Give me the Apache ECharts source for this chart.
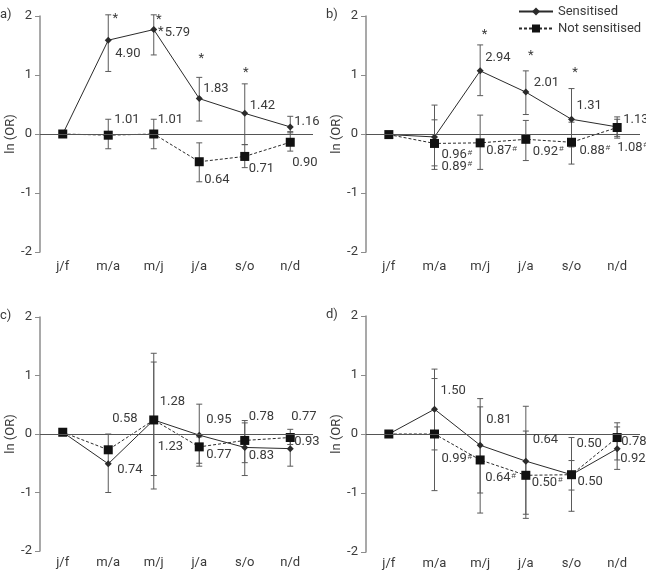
<!DOCTYPE html>
<html><head><meta charset="utf-8">
<script src="https://cdn.jsdelivr.net/npm/echarts@6/dist/echarts.min.js"></script>
<style>html,body{margin:0;padding:0;background:#fff}#c{width:646px;height:570px}</style>
</head><body><div id="c"></div>
<script>
// ---------- DATA ----------
const categories = ['j/f', 'm/a', 'm/j', 'j/a', 's/o', 'n/d'];
const yTicks = [-2, -1, 0, 1, 2];

// Panel a
const aSens = [0, 1.59, 1.77, 0.60, 0.35, 0.12];
const aSensLow = [null, 1.06, 1.34, 0.22, -0.18, 0.02];
const aSensHigh = [null, 2.02, 2.02, 0.96, 0.85, 0.30];
const aNot = [0, -0.02, 0, -0.47, -0.38, -0.14];
const aNotLow = [null, -0.25, -0.25, -0.81, -0.57, -0.29];
const aNotHigh = [null, 0.25, 0.25, -0.15, -0.18, 0.04];
const aSensLabels = ['', '4.90', '5.79', '1.83', '1.42', '1.16'];
const aNotLabels = ['', '1.01', '1.01', '0.64', '0.71', '0.90'];
const aStarCats = [1, 2, 2, 3, 4];

// Panel b
const bSens = [-0.01, -0.05, 1.07, 0.71, 0.25, 0.12];
const bSensLow = [null, -0.60, 0.65, 0.33, -0.22, -0.04];
const bSensHigh = [null, 0.49, 1.51, 1.07, 0.77, 0.29];
const bNot = [-0.01, -0.16, -0.15, -0.09, -0.14, 0.11];
const bNotLow = [null, -0.54, -0.60, -0.45, -0.51, -0.07];
const bNotHigh = [null, 0.24, 0.32, 0.23, 0.20, 0.25];
const bSensLabels = ['', '0.96#', '2.94', '2.01', '1.31', '1.13'];
const bNotLabels = ['', '0.89#', '0.87#', '0.92#', '0.88#', '1.08#'];
const bStarCats = [2, 3, 4];

// Panel c
const cSens = [0.03, -0.51, 0.24, -0.02, -0.23, -0.25];
const cSensLow = [null, -1.00, -0.94, -0.55, -0.71, -0.55];
const cSensHigh = [null, 0.00, 1.38, 0.51, 0.19, -0.02];
const cNot = [0.03, -0.27, 0.24, -0.22, -0.11, -0.06];
const cNotLow = [null, null, -0.71, -0.50, -0.49, -0.18];
const cNotHigh = [null, null, 1.23, -0.05, 0.23, 0.08];
const cSensLabels = ['', '0.74', '1.28', '0.95', '0.83', '0.93'];
const cNotLabels = ['', '0.58', '1.23', '0.77', '0.78', '0.77'];
const cStarCats = [];

// Panel d
const dSens = [0, 0.42, -0.19, -0.46, -0.69, -0.25];
const dSensLow = [null, -0.27, -1.00, -1.36, -1.31, -0.60];
const dSensHigh = [null, 1.10, 0.60, 0.47, -0.06, 0.12];
const dNot = [0, 0.00, -0.44, -0.70, -0.69, -0.06];
const dNotLow = [null, -0.96, -1.34, -1.43, -0.95, -0.44];
const dNotHigh = [null, 0.94, 0.46, 0.05, -0.45, 0.19];
const dSensLabels = ['', '1.50', '0.81', '0.64', '0.50', '0.92'];
const dNotLabels = ['', '0.99#', '0.64#', '0.50#', '0.50', '0.78'];
const dStarCats = [];

const seriesNames = ['Sensitised', 'Not sensitised'];
const panelTitles = ['a)', 'b)', 'c)', 'd)'];
const yAxisTitle = 'ln (OR)';

// ---------- LAYOUT / STYLE ----------
const grids = [
  {left: 40, top: 16, width: 273, height: 236},
  {left: 366, top: 16, width: 274, height: 236},
  {left: 40, top: 317, width: 273, height: 234},
  {left: 366, top: 316, width: 274, height: 236}
];
const xLabelMargins = [8, 8, 5, 5];
// label offsets [dx, dy] in px from the data point
const sensOffsets = [
  [null, [7, 14], [11, 3], [4, -10], [5, -8], [4, -5]],
  [null, [7, 18], [5, -13], [8, -9], [5, -14], [6, -7]],
  [null, [9, 6], [6, -18], [7, -15], [4, 8], [4, -7]],
  [null, [6, -18], [6, -25], [7, -21], [5, -31], [3, 10]]
];
const notOffsets = [
  [null, [6, -15], [4, -14], [5, 18], [4, 12], [2, 20]],
  [null, [7, 23], [6, 8], [7, 12], [8, 8], [0, 20]],
  [null, [4, -31], [4, 27], [7, 8], [4, -24], [1, -21]],
  [null, [7, 25], [5, 18], [6, 7], [6, 7], [4, 4]]
];
const starOffsets = [
  [[7, -21], [5, -10], [7, 2.5], [2, -40], [1, -41]],
  [[4.5, -36], [5, -36], [3.6, -47]],
  [],
  []
];
const ink = '#2b2b2b';
const textColor = '#3a3a3a';
const axisColor = '#8c8c8c';
const barColor = '#5a5a5a';
const FONT = 'Roboto, "Liberation Sans", sans-serif';

const panels = [
  {sens: aSens, sl: aSensLow, sh: aSensHigh, not: aNot, nl: aNotLow, nh: aNotHigh, sLab: aSensLabels, nLab: aNotLabels, stars: aStarCats},
  {sens: bSens, sl: bSensLow, sh: bSensHigh, not: bNot, nl: bNotLow, nh: bNotHigh, sLab: bSensLabels, nLab: bNotLabels, stars: bStarCats},
  {sens: cSens, sl: cSensLow, sh: cSensHigh, not: cNot, nl: cNotLow, nh: cNotHigh, sLab: cSensLabels, nLab: cNotLabels, stars: cStarCats},
  {sens: dSens, sl: dSensLow, sh: dSensHigh, not: dNot, nl: dNotLow, nh: dNotHigh, sLab: dSensLabels, nLab: dNotLabels, stars: dStarCats}
];

function errData(vals, lows, highs) {
  const out = [];
  vals.forEach((v, i) => { if (lows[i] != null && highs[i] != null) out.push([i, lows[i], highs[i]]); });
  return out;
}
function errSeries(p, data) {
  return {
    type: 'custom', xAxisIndex: p, yAxisIndex: p, z: 1, silent: true,
    data: data,
    renderItem: function (params, api) {
      const x = api.value(0);
      const lo = api.coord([x, api.value(1)]);
      const hi = api.coord([x, api.value(2)]);
      const w = 3;
      const st = {stroke: barColor, lineWidth: 1};
      return {type: 'group', children: [
        {type: 'line', shape: {x1: lo[0], y1: lo[1], x2: hi[0], y2: hi[1]}, style: st},
        {type: 'line', shape: {x1: lo[0] - w, y1: lo[1], x2: lo[0] + w, y2: lo[1]}, style: st},
        {type: 'line', shape: {x1: hi[0] - w, y1: hi[1], x2: hi[0] + w, y2: hi[1]}, style: st}
      ]};
    }
  };
}
function fmt(t) {
  return t.indexOf('#') >= 0 ? t.replace('#', '') + '{s|#}' : t;
}
function labelSeries(p, vals, labels, offs) {
  const data = [];
  const idx = [];
  vals.forEach((v, i) => { if (labels[i]) { data.push([i, v]); idx.push(i); } });
  return {
    type: 'custom', xAxisIndex: p, yAxisIndex: p, z: 5, silent: true,
    data: data,
    renderItem: function (params, api) {
      const i = idx[params.dataIndex];
      const pt = api.coord([api.value(0), api.value(1)]);
      const o = offs[i];
      return {type: 'text', x: pt[0] + o[0], y: pt[1] + o[1], style: {
        text: fmt(labels[i]), fill: textColor, font: '13px ' + FONT,
        align: 'left', verticalAlign: 'middle',
        rich: {s: {fontSize: 8, fill: textColor, verticalAlign: 'top', lineHeight: 8, padding: [0, 0, 6, 1]}}
      }};
    }
  };
}
function starSeries(p, vals, cats, offs) {
  const data = cats.map(c => [c, vals[c]]);
  return {
    type: 'custom', xAxisIndex: p, yAxisIndex: p, z: 5, silent: true,
    data: data,
    renderItem: function (params, api) {
      const pt = api.coord([api.value(0), api.value(1)]);
      const o = offs[params.dataIndex];
      return {type: 'text', x: pt[0] + o[0], y: pt[1] + o[1], style: {
        text: '*', fill: textColor, font: '13px ' + FONT, align: 'center', verticalAlign: 'middle'
      }};
    }
  };
}

const option = {
  backgroundColor: '#fff',
  animation: false,
  textStyle: {fontFamily: FONT},
  legend: {
    left: 513, top: 0, orient: 'vertical', itemGap: 4, itemWidth: 34, itemHeight: 10,
    textStyle: {color: textColor, fontSize: 13, fontFamily: FONT},
    data: seriesNames
  },
  grid: grids,
  xAxis: grids.map((g, p) => ({
    type: 'category', gridIndex: p, data: categories, boundaryGap: true,
    axisLine: {show: false}, axisTick: {show: false},
    axisLabel: {color: textColor, fontSize: 13, margin: xLabelMargins[p], fontFamily: FONT}
  })),
  yAxis: grids.map((g, p) => ({
    type: 'value', gridIndex: p, min: yTicks[0], max: yTicks[yTicks.length - 1], interval: 1,
    name: yAxisTitle, nameLocation: 'middle', nameGap: 23, nameRotate: 90,
    nameTextStyle: {color: textColor, fontSize: 13, fontFamily: FONT},
    axisLine: {show: true, lineStyle: {color: axisColor, width: 1.5}},
    axisTick: {show: true, length: 5, lineStyle: {color: axisColor}},
    splitLine: {show: false},
    axisLabel: {color: textColor, fontSize: 13, margin: 8, fontFamily: FONT}
  })),
  graphic: grids.map((g, p) => ({
    type: 'text', left: g.left - 40, top: g.top - 8,
    style: {text: panelTitles[p], fill: textColor, font: '13px ' + FONT}
  })),
  series: []
};

panels.forEach((pd, p) => {
  option.series.push(errSeries(p, errData(pd.sens, pd.sl, pd.sh)));
  option.series.push(errSeries(p, errData(pd.not, pd.nl, pd.nh)));
  option.series.push({
    name: seriesNames[0], type: 'line', xAxisIndex: p, yAxisIndex: p, z: 3,
    data: pd.sens, symbol: 'diamond', symbolSize: 7, showSymbol: true,
    itemStyle: {color: ink}, lineStyle: {color: ink, width: 1, type: 'solid'},
    markLine: {silent: true, symbol: ['none', 'none'], label: {show: false}, animation: false,
      lineStyle: {color: '#555', width: 1, type: 'solid'}, data: [{yAxis: 0}]}
  });
  option.series.push({
    name: seriesNames[1], type: 'line', xAxisIndex: p, yAxisIndex: p, z: 4,
    data: pd.not, symbol: 'rect', symbolSize: 9, showSymbol: true,
    itemStyle: {color: '#111'}, lineStyle: {color: ink, width: 1, type: [3, 2]}
  });
  option.series.push(labelSeries(p, pd.sens, pd.sLab, sensOffsets[p]));
  option.series.push(labelSeries(p, pd.not, pd.nLab, notOffsets[p]));
  if (pd.stars.length) option.series.push(starSeries(p, pd.sens, pd.stars, starOffsets[p]));
});

const chart = echarts.init(document.getElementById('c'), null, {renderer: 'canvas'});
chart.setOption(option);
</script>
</body></html>
